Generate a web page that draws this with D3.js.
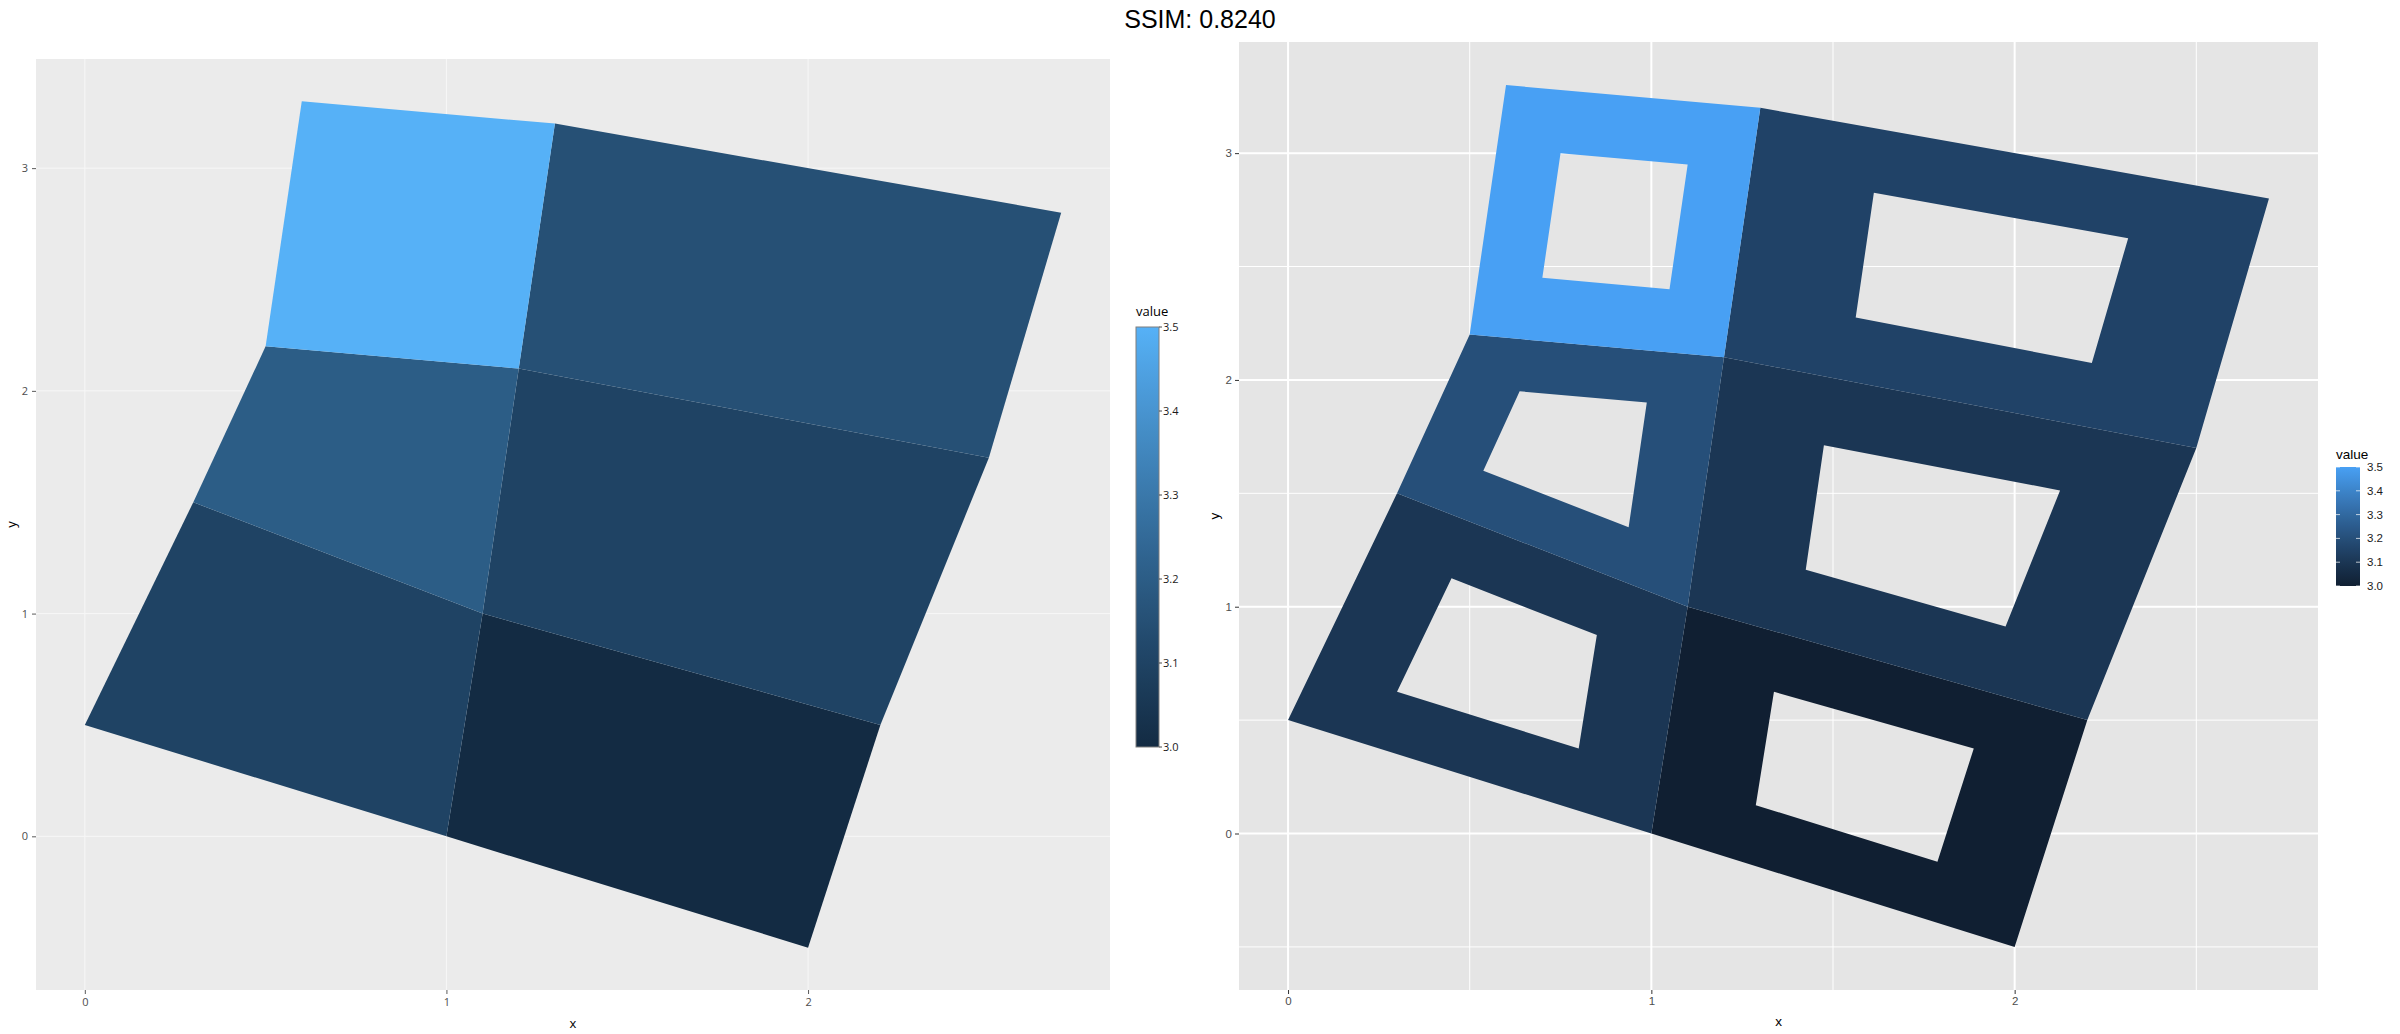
<!DOCTYPE html>
<html><head><meta charset="utf-8">
<script src="https://cdn.jsdelivr.net/npm/d3@7"></script>
<style>body{margin:0;background:#fff}svg{display:block}</style>
</head><body>
<svg id="c" width="2400" height="1034"></svg>
<script>
// ---- data ----
const titleText = "SSIM: 0.8240";
const polyIds = ["1.1", "2.1", "1.2", "2.2", "1.3", "2.3"];
const polyValues = [3, 3.1, 3.1, 3.2, 3.15, 3.5];
const polyX = [[2, 1, 1.1, 2.2], [1, 0, 0.3, 1.1], [2.2, 1.1, 1.2, 2.5], [1.1, 0.3, 0.5, 1.2], [2.5, 1.2, 1.3, 2.7], [1.2, 0.5, 0.6, 1.3]];
const polyY = [[-0.5, 0, 1, 0.5], [0, 0.5, 1.5, 1], [0.5, 1, 2.1, 1.7], [1, 1.5, 2.2, 2.1], [1.7, 2.1, 3.2, 2.8], [2.1, 2.2, 3.3, 3.2]];
const holeX = [[1.7875, 1.2875, 1.3375, 1.8875], [0.8, 0.3, 0.45, 0.85], [1.975, 1.425, 1.475, 2.125], [0.9375, 0.5375, 0.6375, 0.9875], [2.2125, 1.5625, 1.6125, 2.3125], [1.05, 0.7, 0.75, 1.1]];
const holeY = [[-0.125, 0.125, 0.625, 0.375], [0.375, 0.625, 1.125, 0.875], [0.9125, 1.1625, 1.7125, 1.5125], [1.35, 1.6, 1.95, 1.9], [2.075, 2.275, 2.825, 2.625], [2.4, 2.45, 3.0, 2.95]];
const xTicks = [0, 1, 2];
const yTicks = [0, 1, 2, 3];
const xMinor = [0.5, 1.5, 2.5];
const yMinor = [-0.5, 0.5, 1.5, 2.5];
const legendTicks = [3.0, 3.1, 3.2, 3.3, 3.4, 3.5];
const xDomain = [-0.135, 2.835];
const yDomain = [-0.69, 3.49];
const fillDomain = [3, 3.5];

const svg = d3.select("#c");

svg.append("text").attr("x", 1200).attr("y", 28).attr("text-anchor", "middle")
  .attr("font-family", "Liberation Sans, Arial, sans-serif").attr("font-size", 25)
  .attr("fill", "#000").text(titleText);

function panel(cfg) {
  const g = svg.append("g");
  const x = d3.scaleLinear().domain(xDomain).range([cfg.left, cfg.right]);
  const y = d3.scaleLinear().domain(yDomain).range([cfg.bottom, cfg.top]);
  const color = d3.scaleLinear().domain(fillDomain).range(cfg.colors).interpolate(d3.interpolateLab);
  g.append("rect").attr("x", cfg.left).attr("y", cfg.top)
    .attr("width", cfg.right - cfg.left).attr("height", cfg.bottom - cfg.top).attr("fill", cfg.bg);
  if (cfg.minor) {
    g.selectAll(".vmin").data(xMinor).join("line")
      .attr("x1", d => x(d)).attr("x2", d => x(d)).attr("y1", cfg.top).attr("y2", cfg.bottom)
      .attr("stroke", "#fff").attr("stroke-width", cfg.minorW);
    g.selectAll(".hmin").data(yMinor).join("line")
      .attr("y1", d => y(d)).attr("y2", d => y(d)).attr("x1", cfg.left).attr("x2", cfg.right)
      .attr("stroke", "#fff").attr("stroke-width", cfg.minorW);
  }
  g.selectAll(".vmaj").data(xTicks).join("line")
    .attr("x1", d => x(d)).attr("x2", d => x(d)).attr("y1", cfg.top).attr("y2", cfg.bottom)
    .attr("stroke", cfg.gridColor).attr("stroke-width", cfg.majorW);
  g.selectAll(".hmaj").data(yTicks).join("line")
    .attr("y1", d => y(d)).attr("y2", d => y(d)).attr("x1", cfg.left).attr("x2", cfg.right)
    .attr("stroke", cfg.gridColor).attr("stroke-width", cfg.majorW);

  const line = d3.line();
  polyIds.forEach((id, i) => {
    let d = line(polyX[i].map((v, k) => [x(v), y(polyY[i][k])])) + "Z";
    if (cfg.holes) d += line(holeX[i].map((v, k) => [x(v), y(holeY[i][k])])) + "Z";
    g.append("path").attr("d", d).attr("fill", color(polyValues[i]))
      .attr("fill-rule", "evenodd").attr("stroke", "none");
  });

  // axes
  const ax = d3.axisBottom(x).tickValues(xTicks).tickSize(cfg.tickLen).tickPadding(cfg.tickPad).tickFormat(d3.format("d"));
  const ay = d3.axisLeft(y).tickValues(yTicks).tickSize(cfg.tickLen).tickPadding(cfg.tickPad).tickFormat(d3.format("d"));
  const gx = g.append("g").attr("transform", `translate(0,${cfg.bottom})`).call(ax);
  const gy = g.append("g").attr("transform", `translate(${cfg.left},0)`).call(ay);
  [gx, gy].forEach(a => {
    a.select(".domain").remove();
    a.selectAll("line").attr("stroke", cfg.tickColor);
    a.selectAll("text").attr("font-family", cfg.font).attr("font-size", cfg.tickFont).attr("fill", "#4D4D4D");
  });
  g.append("text").attr("x", (cfg.left + cfg.right) / 2).attr("y", cfg.xTitleY)
    .attr("text-anchor", "middle").attr("font-family", cfg.font).attr("font-size", cfg.titleFont).text("x");
  g.append("text").attr("transform", `translate(${cfg.yTitleX},${(cfg.top + cfg.bottom) / 2}) rotate(-90)`)
    .attr("text-anchor", "middle").attr("dominant-baseline", "middle")
    .attr("font-family", cfg.font).attr("font-size", cfg.titleFont).text("y");

  // legend
  const L = cfg.legend;
  const ly = d3.scaleLinear().domain(fillDomain).range([L.bottom, L.top]);
  const gradId = "grad" + cfg.left;
  const grad = svg.append("defs").append("linearGradient").attr("id", gradId)
    .attr("x1", 0).attr("x2", 0).attr("y1", 1).attr("y2", 0);
  d3.range(0, 1.0001, 0.05).forEach(t => {
    grad.append("stop").attr("offset", t).attr("stop-color", color(fillDomain[0] + t * (fillDomain[1] - fillDomain[0])));
  });
  g.append("text").attr("x", L.left).attr("y", L.titleY).attr("font-family", cfg.font)
    .attr("font-size", cfg.legTitleFont).text("value");
  g.append("rect").attr("x", L.left).attr("y", L.top).attr("width", L.width).attr("height", L.bottom - L.top)
    .attr("fill", `url(#${gradId})`).attr("stroke", L.border).attr("stroke-width", L.border === "none" ? 0 : 1);
  legendTicks.forEach(v => {
    if (L.innerTicks) {
      g.append("line").attr("x1", L.left).attr("x2", L.left + 4).attr("y1", ly(v)).attr("y2", ly(v))
        .attr("stroke", "#fff").attr("stroke-opacity", 0.7).attr("stroke-width", 1);
      g.append("line").attr("x1", L.left + L.width - 4).attr("x2", L.left + L.width).attr("y1", ly(v)).attr("y2", ly(v))
        .attr("stroke", "#fff").attr("stroke-opacity", 0.7).attr("stroke-width", 1);
    } else {
      g.append("line").attr("x1", L.left + L.width).attr("x2", L.left + L.width + 3).attr("y1", ly(v)).attr("y2", ly(v))
        .attr("stroke", "#4D4D4D").attr("stroke-width", 1);
    }
    g.append("text").attr("x", L.left + L.width + L.labelGap).attr("y", ly(v)).attr("dy", "0.35em")
      .attr("font-family", cfg.font).attr("font-size", cfg.legFont).attr("fill", "#1A1A1A")
      .text(d3.format(".1f")(v));
  });
}

panel({
  left: 36, right: 1110, top: 59, bottom: 990,
  colors: ["#132B43", "#56B1F7"], bg: "#EBEBEB", gridColor: "#F7F7F7", majorW: 1, minor: false,
  holes: false, font: "Open Sans, Noto Sans, sans-serif", tickFont: 11, titleFont: 13,
  tickLen: 4, tickPad: 4, tickColor: "#5A5A5A", xTitleY: 1028, yTitleX: 13,
  legTitleFont: 13, legFont: 11,
  legend: {left: 1136, width: 23, top: 327, bottom: 747, titleY: 316, border: "#7F7F7F", innerTicks: false, labelGap: 4}
});

panel({
  left: 1239, right: 2318, top: 42, bottom: 990,
  colors: ["#101F32", "#48A0F4"], bg: "#E5E5E5", gridColor: "#FFFFFF", majorW: 2, minor: true, minorW: 1,
  holes: true, font: "Liberation Sans, Arial, sans-serif", tickFont: 11.5, titleFont: 13.5,
  tickLen: 4, tickPad: 3, tickColor: "#333333", xTitleY: 1026, yTitleX: 1215,
  legTitleFont: 13.5, legFont: 11.5,
  legend: {left: 2336, width: 24, top: 467, bottom: 586, titleY: 459, border: "none", innerTicks: true, labelGap: 7}
});
</script>
</body></html>
